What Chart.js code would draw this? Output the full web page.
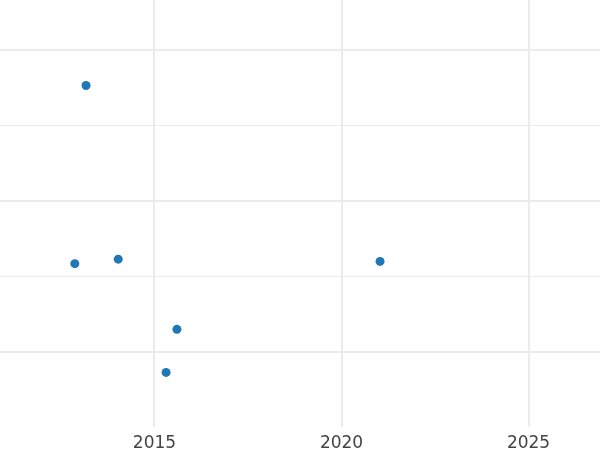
<!DOCTYPE html>
<html>
<head>
<meta charset="utf-8">
<script src="https://cdn.jsdelivr.net/npm/chart.js@4/dist/chart.umd.min.js"></script>
<style>
html,body{margin:0;padding:0;background:#fff;}
#wrap{width:600px;height:450px;}
</style>
</head>
<body>
<div id="wrap"><canvas id="c" width="600" height="450"></canvas></div>
<script>
const years = [2013.17, 2012.87, 2014.03, 2015.60, 2015.31, 2021.03];
const values = [3.53, 1.17, 1.23, 0.30, -0.27, 1.20];
const xTicks = [2015, 2020, 2025];
const yTicks = [0, 1, 2, 3, 4];

const points = years.map((x, i) => ({x: x, y: values[i]}));

new Chart(document.getElementById('c'), {
  type: 'scatter',
  data: {
    datasets: [{
      data: points,
      backgroundColor: '#1f77b4',
      borderColor: '#1f77b4',
      pointRadius: 4.5,
      pointHoverRadius: 4.5,
      borderWidth: 0
    }]
  },
  options: {
    responsive: false,
    animation: false,
    layout: {padding: 0, autoPadding: false},
    plugins: {legend: {display: false}, tooltip: {enabled: false}},
    scales: {
      x: {
        type: 'linear',
        min: 2010.87,
        max: 2026.91,
        afterBuildTicks: (s) => { s.ticks = xTicks.map(v => ({value: v})); },
        afterFit: (s) => { s.height = 23; },
        border: {display: false},
        grid: {color: '#ebebeb', lineWidth: 2, drawTicks: false},
        ticks: {
          padding: 6,
          color: '#444444',
          font: {family: 'DejaVu Sans', size: 17},
          callback: (v) => String(v),
          maxRotation: 0
        }
      },
      y: {
        type: 'linear',
        min: -0.993,
        max: 4.662,
        afterBuildTicks: (s) => { s.ticks = yTicks.map(v => ({value: v})); },
        border: {display: false},
        grid: {
          color: '#ebebeb',
          lineWidth: (ctx) => (ctx.tick && ctx.tick.value % 2 === 0) ? 2 : 1,
          drawTicks: false
        },
        ticks: {display: false}
      }
    }
  }
});
</script>
</body>
</html>
